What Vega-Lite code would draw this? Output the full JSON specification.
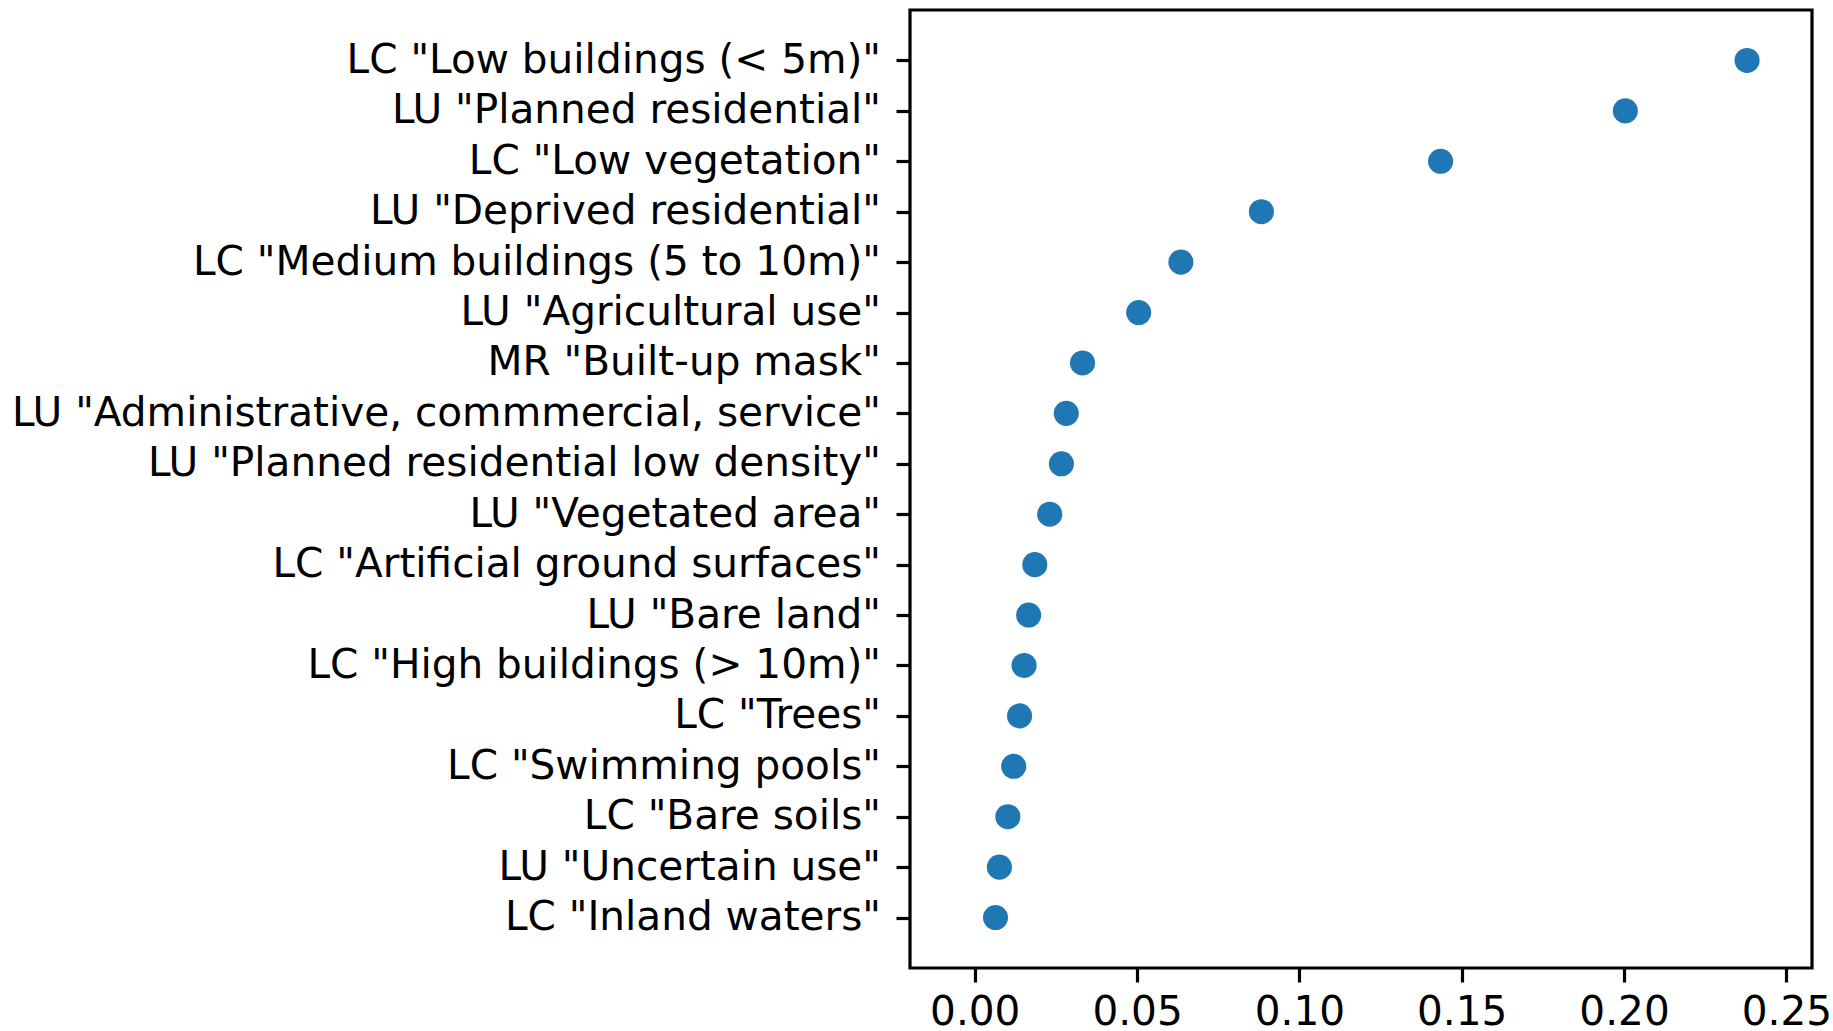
{
  "$schema": "https://vega.github.io/schema/vega-lite/v6.json",
  "width": 902,
  "height": 958,
  "autosize": {"type": "none"},
  "padding": {"left": 910, "top": 10, "right": 21, "bottom": 63},
  "background": "white",
  "config": {
    "view": {"stroke": "#000000", "strokeWidth": 3.2},
    "font": "DejaVu Sans",
    "axis": {
      "domain": false,
      "grid": false,
      "labelFont": "DejaVu Sans",
      "labelFontSize": 40.6,
      "labelColor": "#000000",
      "tickColor": "#000000",
      "tickSize": 14,
      "tickWidth": 3.2,
      "labelPadding": 10,
      "title": null,
      "labelLimit": 0
    }
  },
  "data": {
    "values": [
      {"feature": "LC \"Low buildings (< 5m)\"", "importance": 0.2379},
      {"feature": "LU \"Planned residential\"", "importance": 0.2004},
      {"feature": "LC \"Low vegetation\"", "importance": 0.1435},
      {"feature": "LU \"Deprived residential\"", "importance": 0.0883},
      {"feature": "LC \"Medium buildings (5 to 10m)\"", "importance": 0.0635},
      {"feature": "LU \"Agricultural use\"", "importance": 0.0505},
      {"feature": "MR \"Built-up mask\"", "importance": 0.0332},
      {"feature": "LU \"Administrative, commmercial, service\"", "importance": 0.0282},
      {"feature": "LU \"Planned residential low density\"", "importance": 0.0267},
      {"feature": "LU \"Vegetated area\"", "importance": 0.0231},
      {"feature": "LC \"Artificial ground surfaces\"", "importance": 0.0185},
      {"feature": "LU \"Bare land\"", "importance": 0.0166},
      {"feature": "LC \"High buildings (> 10m)\"", "importance": 0.0152},
      {"feature": "LC \"Trees\"", "importance": 0.0138},
      {"feature": "LC \"Swimming pools\"", "importance": 0.0120},
      {"feature": "LC \"Bare soils\"", "importance": 0.0102},
      {"feature": "LU \"Uncertain use\"", "importance": 0.0076},
      {"feature": "LC \"Inland waters\"", "importance": 0.0064}
    ]
  },
  "mark": {"type": "point", "filled": true, "color": "#1f77b4", "opacity": 1, "size": 629, "strokeWidth": 0},
  "encoding": {
    "x": {
      "field": "importance",
      "type": "quantitative",
      "scale": {"domain": [-0.01994, 0.2579], "nice": false, "zero": false},
      "axis": {"values": [0, 0.05, 0.1, 0.15, 0.2, 0.25], "format": ".2f", "labelFlush": false}
    },
    "y": {
      "field": "feature",
      "type": "nominal",
      "sort": null,
      "scale": {"type": "point", "padding": 1},
      "axis": {"labelAlign": "right", "labelBaseline": "middle", "labelPadding": 15.5}
    }
  }
}
